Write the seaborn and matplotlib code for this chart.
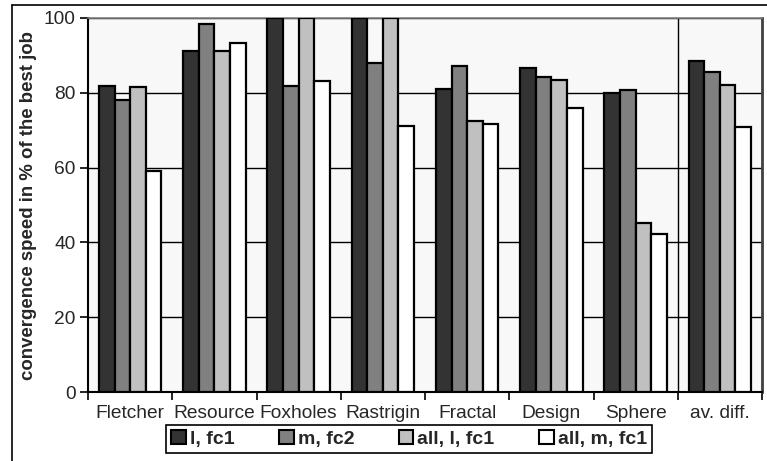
import matplotlib
matplotlib.use("Agg")
import matplotlib.pyplot as plt
from matplotlib.lines import Line2D
import seaborn as sns
import pandas as pd

# Benchmark functions and the four configurations compared
categories = ["Fletcher", "Resource", "Foxholes", "Rastrigin",
              "Fractal", "Design", "Sphere", "av. diff."]
series = ["l, fc1", "m, fc2", "all, l, fc1", "all, m, fc1"]

l_fc1 = [81.8, 91.2, 100.0, 100.0, 80.9, 86.6, 79.9, 88.5]
m_fc2 = [78.1, 98.3, 81.9, 88.1, 87.2, 84.1, 80.7, 85.6]
all_l_fc1 = [81.6, 91.2, 100.0, 100.0, 72.5, 83.4, 45.1, 82.0]
all_m_fc1 = [59.1, 93.3, 83.2, 71.0, 71.7, 75.9, 42.2, 70.9]

y_ticks = [0, 20, 40, 60, 80, 100]

values = {"l, fc1": l_fc1, "m, fc2": m_fc2,
          "all, l, fc1": all_l_fc1, "all, m, fc1": all_m_fc1}
df = pd.DataFrame([
    {"benchmark": c, "config": s, "speed": values[s][i]}
    for s in series for i, c in enumerate(categories)
])

colors = ["#333333", "#808080", "#c0c0c0", "#ffffff"]

sns.set_theme(style="white")
plt.rcParams["font.family"] = ["Liberation Sans", "DejaVu Sans"]

fig = plt.figure(figsize=(7.67, 4.61), dpi=100)
ax = fig.add_axes([88 / 767, 1 - 392 / 461, (762 - 88) / 767, (392 - 18) / 461])
ax.set_facecolor("#f8f8f8")

sns.barplot(data=df, x="benchmark", y="speed", hue="config",
            order=categories, hue_order=series, palette=colors,
            width=0.74, edgecolor="black", linewidth=1.6,
            saturation=1, ax=ax, legend=False, zorder=3)

ax.set_ylim(0, 100)
ax.set_xlim(-0.5, len(categories) - 0.5)
ax.set_yticks(y_ticks)
ax.yaxis.grid(True, color="black", linewidth=1)
ax.set_axisbelow(True)
ax.tick_params(axis="y", labelsize=13.8, length=6, width=1.2,
               direction="out", left=True, color="black", pad=3)

# group boundaries as major ticks, names centred as minor tick labels
ax.set_xticks([i - 0.5 for i in range(len(categories) + 1)])
ax.set_xticklabels([])
ax.set_xticks(range(len(categories)), minor=True)
ax.set_xticklabels(categories, minor=True)
ax.tick_params(axis="x", which="major", length=6, width=1.2,
               direction="out", bottom=True, color="black")
ax.tick_params(axis="x", which="minor", length=0, labelsize=13.8, pad=9)

# separator before the averaged group
ax.axvline(len(categories) - 1.5, color="black", linewidth=1, zorder=2)

ax.set_xlabel("")
ax.set_ylabel("convergence speed in % of the best job", fontsize=13.4,
              fontweight="bold", labelpad=5)

for side in ["left", "bottom"]:
    ax.spines[side].set_color("black")
    ax.spines[side].set_linewidth(1.5)
ax.spines["top"].set_color("#808080")
ax.spines["top"].set_linewidth(1.2)
ax.spines["right"].set_color("#404040")
ax.spines["right"].set_linewidth(2)

handles = [plt.Rectangle((0, 0), 1, 1, facecolor=c, edgecolor="black",
                         linewidth=1.5) for c in colors]
leg = fig.legend(handles, series, loc="center",
                 bbox_to_anchor=(409 / 767, 1 - 439 / 461), ncol=4,
                 frameon=True, fancybox=False, framealpha=1,
                 edgecolor="black", prop={"weight": "bold", "size": 14},
                 handlelength=0.75, handleheight=0.75, handletextpad=0.2,
                 columnspacing=2.3, borderpad=0.25, borderaxespad=0)
leg.get_frame().set_linewidth(1.2)

# outer frame lines along the top and left edges
fig.add_artist(Line2D([12 / 767, 1], [1 - 5 / 461, 1 - 5 / 461],
                      transform=fig.transFigure, color="black", linewidth=1.2))
fig.add_artist(Line2D([12 / 767, 12 / 767], [0, 1 - 5 / 461],
                      transform=fig.transFigure, color="black", linewidth=1.2))

fig.savefig("out.png", dpi=100, facecolor="white")
